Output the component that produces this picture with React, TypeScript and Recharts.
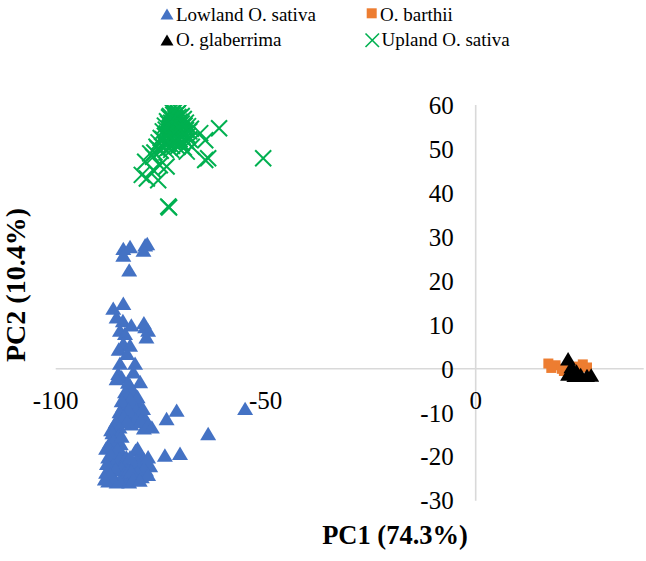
import React from 'react';
import { ScatterChart, Scatter, XAxis, YAxis, ReferenceLine, ReferenceDot } from 'recharts';

// ---- data (PC1, PC2) ----
const lowlandSativa: [number, number][] = [
  [-83.9, 27.4], [-82.3, 27.8], [-83.9, 25.9], [-78.7, 28.2], [-78.2, 28.5], [-79.1, 27.0],
  [-82.5, 22.5], [-86.3, 13.8], [-83.9, 14.9], [-85.5, 11.8], [-84.0, 11.0], [-84.7, 8.8],
  [-83.5, 8.1], [-82.0, 10.0], [-78.7, 9.6], [-79.0, 10.5], [-78.0, 8.8], [-78.4, 7.3],
  [-83.9, 5.8], [-82.3, 5.4], [-85.0, 4.5], [-83.0, 3.5], [-84.7, 1.3], [-81.1, 1.3],
  [-85.1, -1.0], [-84.3, -1.8], [-79.9, -2.9], [-81.5, -0.7], [-85.5, -2.2], [-82.3, -3.7],
  [-82.5, -4.5], [-81.5, -5.5], [-83.0, -6.5], [-81.0, -7.5], [-82.0, -8.0], [-84.0, -8.5],
  [-80.0, -8.5], [-83.0, -10.0], [-81.5, -10.5], [-79.5, -10.2], [-85.0, -11.0], [-78.5, -11.5],
  [-84.0, -12.0], [-82.0, -12.5], [-80.5, -12.0], [-86.0, -13.0], [-79.0, -13.4],
  [-82.8, -3.0], [-81.8, -4.8], [-83.5, -5.2], [-80.5, -6.3], [-82.2, -6.8], [-84.3, -7.2],
  [-80.8, -9.3], [-82.7, -9.2], [-84.8, -9.7], [-79.2, -9.0], [-83.8, -10.8], [-81.0, -11.5],
  [-79.8, -11.7], [-85.7, -12.0], [-83.0, -11.8], [-78.0, -12.5], [-84.8, -13.2], [-86.8, -13.8],
  [-77.1, -13.2], [-73.6, -11.3], [-71.2, -9.4], [-74.0, -19.6], [-70.4, -19.2], [-63.7, -14.7],
  [-54.9, -9.0],
  [-86.5, -14.5], [-85.0, -15.0], [-87.0, -16.5], [-84.5, -17.0], [-86.0, -18.5], [-84.0, -19.5],
  [-87.5, -20.0], [-85.5, -21.0], [-83.5, -21.5], [-87.0, -22.5], [-85.0, -23.0], [-86.5, -24.5],
  [-84.0, -24.8], [-87.5, -25.5], [-85.5, -25.7], [-83.0, -25.6], [-82.0, -24.0], [-88.0, -23.5],
  [-88.0, -18.0],
  [-86.2, -16.2], [-84.3, -15.3], [-87.3, -17.8], [-85.3, -18.3], [-86.8, -19.5], [-84.8, -20.3],
  [-86.3, -21.8], [-83.2, -20.0], [-84.3, -22.5], [-87.8, -21.5], [-85.8, -22.8], [-83.5, -23.5],
  [-86.0, -25.2], [-84.8, -25.5], [-82.5, -25.7], [-87.0, -24.0], [-88.3, -25.0],
  [-81.0, -18.5], [-80.0, -19.5], [-79.0, -20.5], [-81.5, -21.5], [-80.0, -22.5], [-78.5, -23.0],
  [-81.0, -24.0], [-79.5, -24.5], [-77.5, -22.0], [-82.5, -22.8],
  [-80.5, -18.0], [-79.5, -21.5], [-80.8, -20.8], [-78.2, -21.5], [-79.0, -22.5], [-80.5, -23.5],
  [-82.0, -23.2], [-78.0, -24.0], [-81.5, -25.0], [-80.0, -25.3], [-82.3, -20.0], [-78.0, -20.0],
];

const oBarthii: [number, number][] = [
  [17.3, 1.2], [19.0, 0.8], [18.0, 0.2], [20.5, 0.0], [21.0, -0.5], [22.0, 0.6],
  [25.5, 1.0], [26.5, 0.3], [24.0, 0.5], [23.0, -0.6],
];

const oGlaberrima: [number, number][] = [
  [22.0, 2.3], [22.0, -1.2], [23.5, -1.5], [25.0, -1.3], [26.5, -1.5], [27.5, -1.4],
  [24.0, -0.5], [22.8, 0.5],
];

const uplandSativa: [number, number][] = [
  [-72.5, 58.7], [-71.5, 58.9], [-70.5, 58.6], [-71.0, 58.0], [-72.0, 57.8], [-73.0, 57.2],
  [-70.0, 57.5], [-69.5, 56.8], [-71.5, 57.0], [-73.5, 56.3], [-72.5, 56.0], [-70.5, 56.2],
  [-69.0, 56.0], [-74.0, 55.3], [-72.0, 55.2], [-71.0, 55.0], [-68.5, 55.2], [-73.0, 54.6],
  [-70.0, 54.3], [-67.8, 54.6], [-74.5, 54.0], [-72.5, 53.8], [-69.5, 53.5], [-71.5, 53.2],
  [-74.0, 53.0], [-68.5, 53.0], [-73.0, 52.3], [-75.0, 52.5], [-70.5, 52.2], [-75.5, 51.5],
  [-72.0, 51.5], [-74.0, 51.0], [-69.0, 51.8], [-76.0, 50.5], [-73.0, 50.3], [-75.0, 49.6],
  [-71.0, 50.5], [-76.5, 49.2],
  [-71.8, 58.4], [-70.8, 57.3], [-72.8, 57.5], [-71.2, 56.5], [-72.2, 56.7], [-70.0, 55.8],
  [-73.2, 55.8], [-71.7, 55.7], [-69.3, 55.3], [-72.8, 54.9], [-70.6, 54.7], [-71.6, 54.2],
  [-69.0, 54.3], [-73.8, 54.4], [-72.2, 53.4], [-70.8, 53.6], [-68.2, 54.0], [-73.6, 53.5],
  [-69.8, 52.8], [-71.3, 52.5], [-72.7, 52.8], [-74.5, 52.2], [-70.3, 51.5], [-73.2, 51.2],
  [-71.5, 51.6], [-74.7, 50.6], [-72.3, 50.7], [-75.7, 50.1], [-73.8, 49.8], [-69.5, 50.3],
  [-72.5, 49.8], [-68.2, 52.2],
  [-61.1, 54.7], [-65.6, 53.6], [-64.4, 52.0], [-67.6, 50.5], [-68.8, 49.4], [-64.4, 47.5],
  [-63.7, 47.9], [-70.0, 51.3], [-77.5, 49.0], [-76.8, 48.2], [-78.7, 47.1], [-79.5, 44.1],
  [-78.3, 43.3], [-75.6, 42.9], [-75.2, 46.3], [-73.6, 46.0], [-76.8, 45.2], [-73.2, 36.9],
  [-73.0, 36.7], [-50.6, 47.9],
];

const xTicks = [-100, -50, 0];
const yTicks = [60, 50, 40, 30, 20, 10, 0, -10, -20, -30];
const xDomain: [number, number] = [-100, 40];
const yDomain: [number, number] = [-30, 60];

const seriesNames = ['Lowland O. sativa', 'O. barthii', 'O. glaberrima', 'Upland O. sativa'];
const colors = { lowland: '#4472C4', barthii: '#ED7D31', glaberrima: '#000000', upland: '#00B050' };

const toPts = (a: [number, number][]) => a.map(([x, y]) => ({ x, y }));

const triangleShape = (color: string) => (props: any) => {
  const { cx, cy } = props;
  return (
    <polygon
      points={`${cx},${cy - 6.7} ${cx - 8},${cy + 6.7} ${cx + 8},${cy + 6.7}`}
      fill={color}
    />
  );
};
const squareShape = (color: string) => (props: any) => {
  const { cx, cy } = props;
  return <rect x={cx - 5} y={cy - 5} width={10} height={10} fill={color} />;
};
const crossShape = (color: string) => (props: any) => {
  const { cx, cy } = props;
  const h = 8;
  return (
    <g stroke={color} strokeWidth={2}>
      <line x1={cx - h} y1={cy - h} x2={cx + h} y2={cy + h} />
      <line x1={cx - h} y1={cy + h} x2={cx + h} y2={cy - h} />
    </g>
  );
};

const FONT = '"Liberation Serif", "Times New Roman", serif';

const yTickLabel = (t: number) => (props: any) => {
  const vb = props.viewBox || {};
  return (
    <text x={vb.x - 22} y={vb.y} dy="0.35em" textAnchor="end" fontFamily={FONT} fontSize={25} fill="#000">
      {String(t)}
    </text>
  );
};
const xTickLabel = (t: number) => (props: any) => {
  const vb = props.viewBox || {};
  return (
    <text x={vb.x} y={vb.y + 22} dy="0.71em" textAnchor="middle" fontFamily={FONT} fontSize={25} fill="#000">
      {String(t)}
    </text>
  );
};

export default function App() {
  return (
    <div style={{ position: 'absolute', left: 0, top: 0, width: 646, height: 561, fontFamily: FONT, background: '#fff' }}>
      <ScatterChart
        width={646}
        height={561}
        margin={{ top: 105, right: 2.3, bottom: 60.3, left: 55.7 }}
      >
        <XAxis type="number" dataKey="x" domain={xDomain} hide allowDataOverflow />
        <YAxis type="number" dataKey="y" domain={yDomain} hide allowDataOverflow />
        <ReferenceLine y={0} stroke="#d9d9d9" strokeWidth={1.6} />
        <ReferenceLine x={0} stroke="#d9d9d9" strokeWidth={1.6} />
        {yTicks.map((t) => (
          <ReferenceDot key={'y' + t} x={0} y={t} r={0} fill="none" stroke="none" label={yTickLabel(t)} />
        ))}
        {xTicks.map((t) => (
          <ReferenceDot key={'x' + t} x={t} y={0} r={0} fill="none" stroke="none" label={xTickLabel(t)} />
        ))}
        <Scatter name={seriesNames[0]} data={toPts(lowlandSativa)} shape={triangleShape(colors.lowland)} isAnimationActive={false} />
        <Scatter name={seriesNames[1]} data={toPts(oBarthii)} shape={squareShape(colors.barthii)} isAnimationActive={false} />
        <Scatter name={seriesNames[2]} data={toPts(oGlaberrima)} shape={triangleShape(colors.glaberrima)} isAnimationActive={false} />
        <Scatter name={seriesNames[3]} data={toPts(uplandSativa)} shape={crossShape(colors.upland)} isAnimationActive={false} />
      </ScatterChart>
      <svg
        width={646}
        height={561}
        style={{ position: 'absolute', left: 0, top: 0, pointerEvents: 'none' }}
      >
        <g fontFamily={FONT} fontSize={19} fill="#000">
          <polygon points="167,8.5 160.5,19.5 173.5,19.5" fill={colors.lowland} />
          <text x={176} y={20.5}>{seriesNames[0]}</text>
          <rect x={366.7} y={8.3} width={10} height={10} fill={colors.barthii} />
          <text x={380} y={20.5}>{seriesNames[1]}</text>
          <polygon points="167,34.5 160.5,45.5 173.5,45.5" fill={colors.glaberrima} />
          <text x={176} y={45.5}>{seriesNames[2]}</text>
          <g stroke={colors.upland} strokeWidth={1.6}>
            <line x1={365.5} y1={33.5} x2={379} y2={47} />
            <line x1={365.5} y1={47} x2={379} y2={33.5} />
          </g>
          <text x={381.5} y={45.5}>{seriesNames[3]}</text>
        </g>
        <text x={395} y={544} textAnchor="middle" fontFamily={FONT} fontWeight="bold" fontSize={26.5} fill="#000">
          PC1 (74.3%)
        </text>
        <text
          transform="translate(25,285) rotate(-90)"
          textAnchor="middle"
          fontFamily={FONT}
          fontWeight="bold"
          fontSize={28}
          fill="#000"
        >
          PC2 (10.4%)
        </text>
      </svg>
    </div>
  );
}
